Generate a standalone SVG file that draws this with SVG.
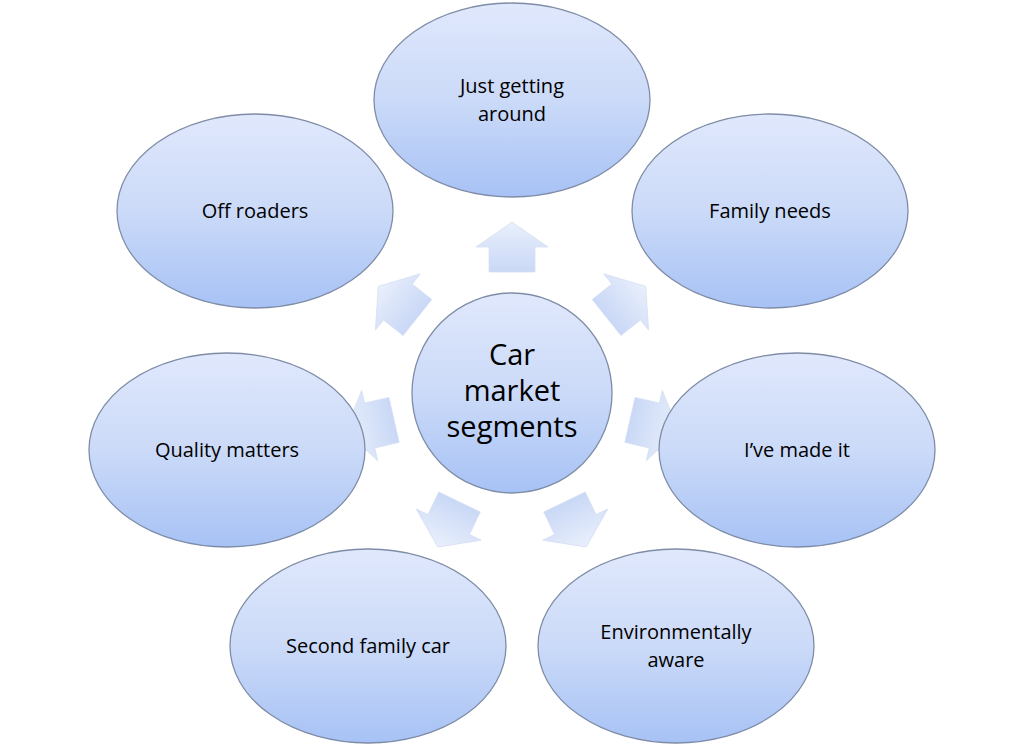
<svg xmlns="http://www.w3.org/2000/svg" width="1024" height="754" viewBox="0 0 1024 754">
<defs>
<linearGradient id="g" x1="0" y1="0" x2="0" y2="1">
<stop offset="0" stop-color="#e0e8fc"/><stop offset="0.5" stop-color="#cbdaf8"/><stop offset="1" stop-color="#a7c2f5"/>
</linearGradient>
<linearGradient id="ga" x1="0" y1="0" x2="0" y2="1">
<stop offset="0" stop-color="#e9effc"/><stop offset="1" stop-color="#c9d8f6"/>
</linearGradient>
<style>
.n{fill:url(#g);stroke:#7f8ca6;stroke-width:1.3}
.a{fill:url(#ga);stroke:#d6e0f3;stroke-width:0.8}
text{font-family:"Open Sans","Liberation Sans",sans-serif;font-size:20px;fill:#000;text-anchor:middle}
.c{font-size:29px}
</style>
<path id="arr" d="M489 272 L535 272 L535 247 L548 247 L512 222 L476 247 L489 247 Z"/>
</defs>
<rect width="1024" height="754" fill="#fff"/>
<g id="connectors">
<use href="#arr" class="a"/>
<use href="#arr" class="a" transform="rotate(51.43 512 393)"/>
<use href="#arr" class="a" transform="rotate(102.86 512 393)"/>
<use href="#arr" class="a" transform="rotate(154.29 512 393)"/>
<use href="#arr" class="a" transform="rotate(205.71 512 393)"/>
<use href="#arr" class="a" transform="rotate(257.14 512 393)"/>
<use href="#arr" class="a" transform="rotate(308.57 512 393)"/>
</g>
<g id="center"><circle class="n" cx="512" cy="393" r="100"/>
<text class="c" x="512" y="365">Car</text><text class="c" x="512" y="401">market</text><text class="c" x="512" y="437">segments</text></g>
<g id="n1"><ellipse class="n" cx="512" cy="100" rx="138" ry="97"/><text x="512" y="93">Just getting</text><text x="512" y="121">around</text></g>
<g id="n2"><ellipse class="n" cx="770" cy="211" rx="138" ry="97"/><text x="770" y="218">Family needs</text></g>
<g id="n3"><ellipse class="n" cx="797" cy="450" rx="138" ry="97"/><text x="797" y="457">I’ve made it</text></g>
<g id="n4"><ellipse class="n" cx="676" cy="646" rx="138" ry="97"/><text x="676" y="639">Environmentally</text><text x="676" y="667">aware</text></g>
<g id="n5"><ellipse class="n" cx="368" cy="646" rx="138" ry="97"/><text x="368" y="653">Second family car</text></g>
<g id="n6"><ellipse class="n" cx="227" cy="450" rx="138" ry="97"/><text x="227" y="457">Quality matters</text></g>
<g id="n7"><ellipse class="n" cx="255" cy="211" rx="138" ry="97"/><text x="255" y="218">Off roaders</text></g>
</svg>
